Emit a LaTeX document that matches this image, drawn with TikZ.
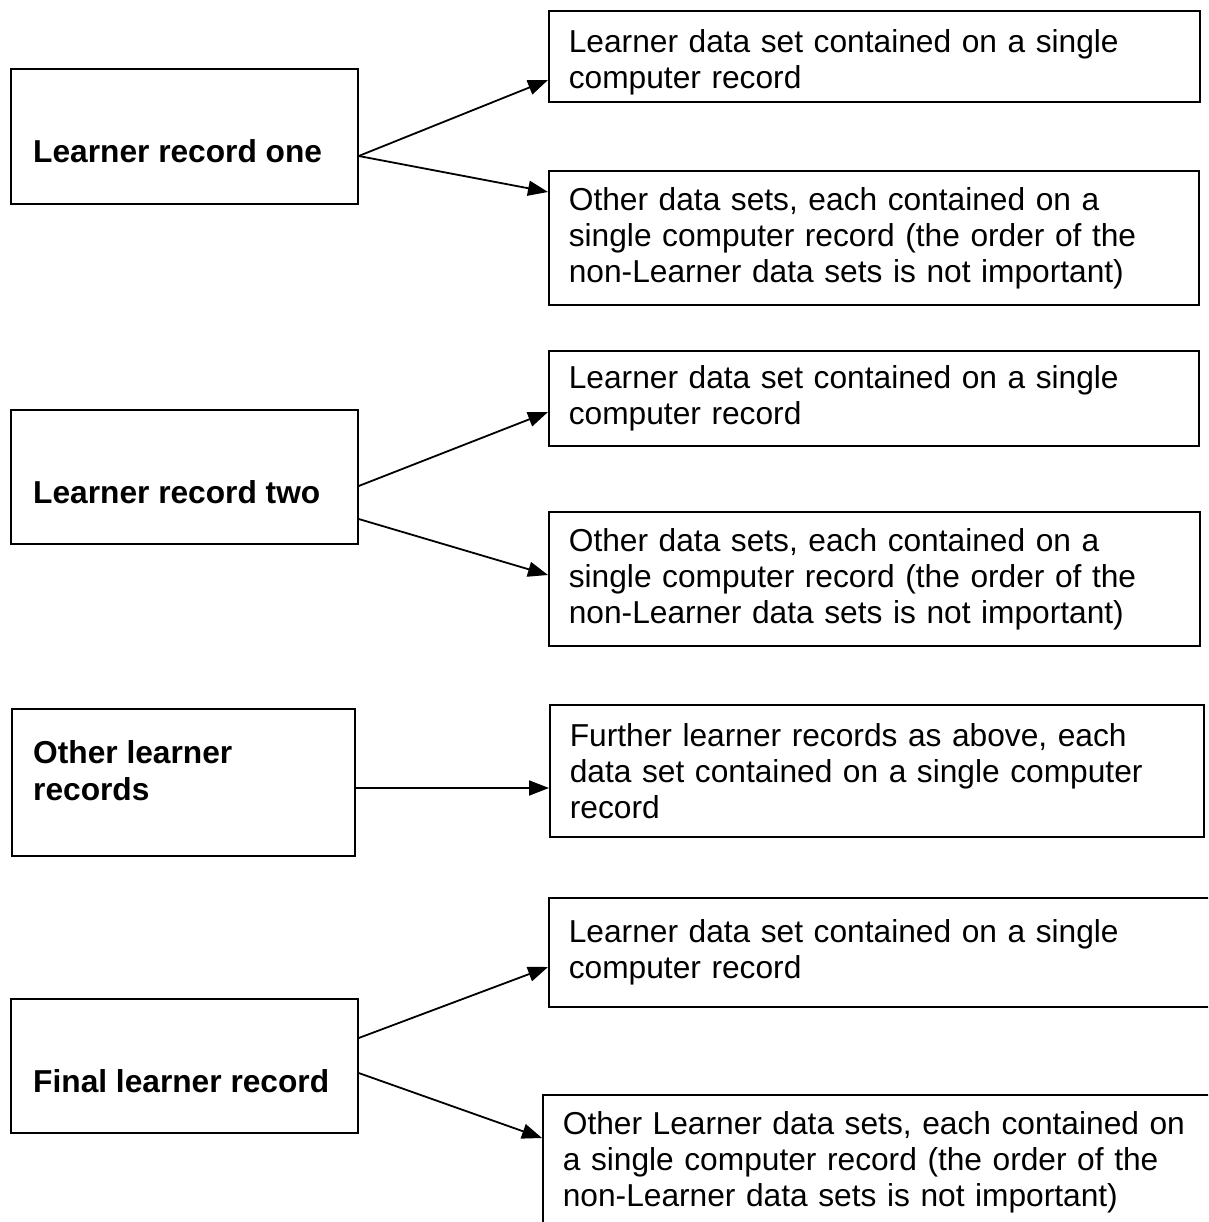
\documentclass[tikz,border=0pt]{standalone}
\usepackage{fontspec}
\setmainfont{Liberation Sans}
\usetikzlibrary{arrows.meta,calc}
\tikzset{
  rbox/.style={draw, line width=1.7pt, anchor=north west, inner xsep=20pt, inner ysep=0pt,
    align=left, font=\fontsize{31.7}{36}\selectfont},
  lbox/.style={draw, line width=1.7pt, anchor=north west, inner sep=0pt},
  ltext/.style={anchor=base west, inner sep=0pt, align=left,
    font=\fontsize{31.7}{37}\selectfont\bfseries},
  arr/.style={line width=1.8pt, -{Triangle[length=20pt,width=15pt]}}
}
\begin{document}
\begin{tikzpicture}[x=1pt,y=-1pt]
\path[use as bounding box] (0,0) rectangle (1208,1222);
\clip (0,0) rectangle (1208,1222);

% group 1
\node[lbox, minimum width=347pt, minimum height=135pt] (L1) at (10,68) {};
\node[ltext] (t1) at ($(L1.north west)+(23,95)$) {Learner record one};
\node[rbox, text width=611pt, minimum height=91pt] (R1a) at (548,10)
  {\rule{0pt}{35pt}Learner data set contained on a single\\computer record};
\node[rbox, text width=610pt, minimum height=134pt] (R1b) at (548,170)
  {Other data sets, each contained on a\\single computer record (the order of the\\non-Learner data sets is not important)};
\draw[arr] ($(L1.north east)+(0,88)$) -- ($(R1a.north west)+(0,70)$);
\draw[arr] ($(L1.north east)+(0,88)$) -- ($(R1b.north west)+(0,22)$);

% group 2
\node[lbox, minimum width=347pt, minimum height=134pt] (L2) at (10,409) {};
\node[ltext] (t2) at ($(L2.north west)+(23,94)$) {Learner record two};
\node[rbox, text width=610pt, minimum height=95pt] (R2a) at (548,350)
  {Learner data set contained on a single\\computer record};
\node[rbox, text width=611pt, minimum height=134pt] (R2b) at (548,511)
  {Other data sets, each contained on a\\single computer record (the order of the\\non-Learner data sets is not important)};
\draw[arr] ($(L2.north east)+(0,77)$) -- ($(R2a.north west)+(0,62)$);
\draw[arr] ($(L2.north east)+(0,110)$) -- ($(R2b.north west)+(0,64)$);

% group 3
\node[lbox, minimum width=343pt, minimum height=147pt] (L3) at (11,708) {};
\node[ltext] (t3) at ($(L3.north west)+(22,92)$) {Other learner\\records};
\node[rbox, text width=614pt, minimum height=132pt] (R3) at (549,704)
  {Further learner records as above, each\\data set contained on a single computer\\record};
\draw[arr] ($(L3.north east)+(0,80)$) -- ($(R3.north west)+(0,84)$);

% group 4
\node[lbox, minimum width=347pt, minimum height=134pt] (L4) at (10,998) {};
\node[ltext] (t4) at ($(L4.north west)+(23,94)$) {Final learner record};
\node[rbox, text width=640pt, minimum height=109pt] (R4a) at (548,897)
  {Learner data set contained on a single\\computer record};
\node[rbox, text width=660pt, minimum height=134pt] (R4b) at (542,1094)
  {Other Learner data sets, each contained on\\a single computer record (the order of the\\non-Learner data sets is not important)};
\draw[arr] ($(L4.north east)+(0,40)$) -- ($(R4a.north west)+(0,70)$);
\draw[arr] ($(L4.north east)+(0,75)$) -- ($(R4b.north west)+(0,44)$);
\end{tikzpicture}
\end{document}
